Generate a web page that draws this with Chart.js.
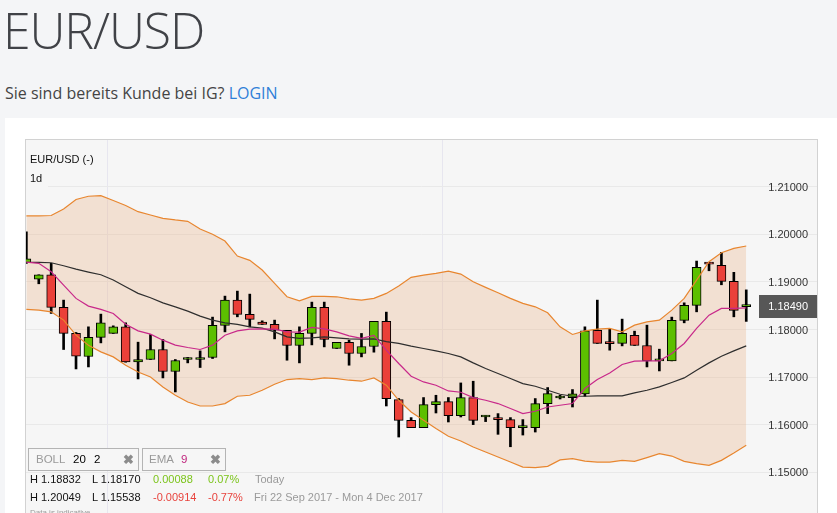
<!DOCTYPE html>
<html>
<head>
<meta charset="utf-8">
<title>EUR/USD</title>
<script src="https://cdn.jsdelivr.net/npm/chart.js@4.4.1/dist/chart.umd.min.js"></script>
<style>
    html, body {
        margin: 0;
        padding: 0;
        width: 837px;
        height: 513px;
        overflow: hidden;
        background: #f4f5f7;
        font-family: "Open Sans", Lato, sans-serif;
    }
    .page-title {
        position: absolute;
        left: 3px;
        top: 5px;
        margin: 0;
        font-size: 50px;
        line-height: 50px;
        font-weight: 300;
        color: #404247;
        letter-spacing: -1.1px;
    }
    .login-line {
        position: absolute;
        left: 5px;
        top: 85px;
        font-size: 16px;
        line-height: 16px;
        color: #444;
    }
    .login-line a { color: #2f7fd8; text-decoration: none; }
    .card {
        position: absolute;
        left: 5px;
        top: 118px;
        width: 832px;
        height: 400px;
        background: #ffffff;
    }
    .chart-wrap {
        position: absolute;
        left: 26px;
        top: 139px;
        width: 791px;
        height: 381px;
    }
    .chart-frame {
        position: absolute;
        left: 25px;
        top: 139px;
        width: 791px;
        height: 400px;
        border: 1px solid #d2d2d2;
        pointer-events: none;
    }
    .chart-label {
        position: absolute;
        font-family: "Liberation Sans", Arial, sans-serif;
        font-size: 11px;
        color: #111;
        background: #f6f6f6;
        line-height: 14px;
    }
    .ind-box {
        position: absolute;
        top: 448px;
        height: 21px;
        border: 1px solid #b4b4b4;
        background: #f6f6f6;
        font-family: "Liberation Sans", Arial, sans-serif;
        font-size: 11.5px;
        line-height: 21px;
    }
    .ind-box span { position: absolute; top: 0; }
    .ind-box .name { color: #9a9a9a; }
    .ind-box .close { color: #8c8c8c; font-weight: bold; font-size: 13px; }
    .info {
        position: absolute;
        left: 26px;
        width: 265px;
        font-family: "Liberation Sans", Arial, sans-serif;
        font-size: 11px;
        line-height: 16px;
        color: #111;
    }
    .info span { position: absolute; top: 0; white-space: nowrap; }
    .up { color: #7cc41b; }
    .down { color: #e8433d; }
    .muted { color: #9a9a9a; }
</style>
</head>
<body>
<h1 class="page-title">EUR/USD</h1>
<div class="login-line">Sie sind bereits Kunde bei IG? <a href="#">LOGIN</a></div>
<div class="card"></div>

<div class="chart-wrap"><canvas id="price-canvas" width="791" height="381"></canvas></div>
<div class="chart-frame"></div>

<div class="chart-label" style="left:30px; top:152px;">EUR/USD (-)</div>
<div class="chart-label" style="left:26px; top:171px; padding:0 6px 4px 4px;">1d</div>

<div class="ind-box" style="left:28px; width:109px;">
    <span class="name" style="left:7px;">BOLL</span>
    <span style="left:44px;">20</span>
    <span style="left:65px;">2</span>
    <span class="close" style="left:94px;">&#10006;</span>
</div>
<div class="ind-box" style="left:142px; width:82px;">
    <span class="name" style="left:6px;">EMA</span>
    <span style="left:38px; color:#c0267e;">9</span>
    <span class="close" style="left:67px;">&#10006;</span>
</div>

<div class="info" style="top:471px; height:16px;">
    <span style="left:4px;">H 1.18832</span>
    <span style="left:66px;">L 1.18170</span>
    <span class="up" style="left:127px;">0.00088</span>
    <span class="up" style="left:182px;">0.07%</span>
    <span class="muted" style="left:229px;">Today</span>
</div>
<div class="info" style="top:489px; height:16px;">
    <span style="left:4px;">H 1.20049</span>
    <span style="left:66px;">L 1.15538</span>
    <span class="down" style="left:127px;">-0.00914</span>
    <span class="down" style="left:182px;">-0.77%</span>
    <span class="muted" style="left:228px;">Fri 22 Sep 2017 - Mon 4 Dec 2017</span>
</div>
<div class="info muted" style="top:505px; font-size:8px; left:30px;">Data is indicative</div>

<script>
// Daily EUR/USD candles (oldest first)
const opens = [
    1.19404, 1.19059, 1.19149, 1.18464, 1.17917, 1.17433, 1.17833, 1.17917, 1.18056, 1.17320,
    1.17370, 1.17580, 1.17118, 1.17370, 1.17370, 1.17412, 1.18085, 1.18617, 1.18316, 1.18155,
    1.18106, 1.17980, 1.17664, 1.17917, 1.18464, 1.17601, 1.17728, 1.17496, 1.17643, 1.18169,
    1.16529, 1.16093, 1.15940, 1.16424, 1.16487, 1.16192, 1.16571, 1.16163, 1.16150, 1.16108,
    1.15940, 1.15940, 1.16445, 1.16562, 1.16571, 1.16647, 1.17980, 1.17707, 1.17707, 1.17875,
    1.17664, 1.17341, 1.17341, 1.18190, 1.18506, 1.19410, 1.19347, 1.19010, 1.18480
];
const highs = [
    1.20049, 1.19149, 1.19389, 1.18617, 1.17938, 1.18056, 1.18323, 1.18077, 1.18140, 1.17734,
    1.17896, 1.17791, 1.17370, 1.17412, 1.17551, 1.18260, 1.18701, 1.18806, 1.18743, 1.18182,
    1.18197, 1.17980, 1.18056, 1.18575, 1.18575, 1.17728, 1.17776, 1.17917, 1.18169, 1.18365,
    1.16550, 1.16150, 1.16571, 1.16619, 1.16571, 1.16878, 1.16914, 1.16192, 1.16234, 1.16150,
    1.16108, 1.16550, 1.16781, 1.16619, 1.16739, 1.18056, 1.18617, 1.18007, 1.18218, 1.17965,
    1.18091, 1.17587, 1.18260, 1.18560, 1.19437, 1.19410, 1.19620, 1.19200, 1.18832
];
const lows = [
    1.19389, 1.18960, 1.18337, 1.17580, 1.17172, 1.17214, 1.17719, 1.17917, 1.17313, 1.16962,
    1.17370, 1.16983, 1.16689, 1.17299, 1.17202, 1.17391, 1.17950, 1.18266, 1.18056, 1.18106,
    1.17803, 1.17355, 1.17299, 1.17677, 1.17635, 1.17601, 1.17250, 1.17425, 1.17524, 1.16394,
    1.15742, 1.15940, 1.15940, 1.16247, 1.16058, 1.16163, 1.16003, 1.16066, 1.15799, 1.15538,
    1.15784, 1.15847, 1.16234, 1.16541, 1.16373, 1.16598, 1.17707, 1.17566, 1.17656, 1.17664,
    1.17214, 1.17130, 1.17341, 1.18140, 1.18371, 1.19233, 1.18939, 1.18266, 1.18170
];
const closes = [
    1.19486, 1.19149, 1.18464, 1.17917, 1.17439, 1.17833, 1.18140, 1.18056, 1.17320, 1.17370,
    1.17580, 1.17118, 1.17349, 1.17372, 1.17412, 1.18085, 1.18617, 1.18316, 1.18211, 1.18106,
    1.17986, 1.17664, 1.17917, 1.18464, 1.17791, 1.17728, 1.17496, 1.17643, 1.18169, 1.16550,
    1.16093, 1.15940, 1.16424, 1.16487, 1.16192, 1.16571, 1.16093, 1.16170, 1.16108, 1.15940,
    1.15945, 1.16445, 1.16655, 1.16565, 1.16647, 1.17972, 1.17707, 1.17705, 1.17917, 1.17664,
    1.17341, 1.17345, 1.18190, 1.18506, 1.19305, 1.19374, 1.19010, 1.18402, 1.18490
];

// Bollinger (20, 2) and EMA 9 as drawn on the chart
const bollUpper = [
    1.20384, 1.20384, 1.20394, 1.20531, 1.20731, 1.20798, 1.20811, 1.20710, 1.20605, 1.20474,
    1.20405, 1.20335, 1.20300, 1.20272, 1.20110, 1.19999, 1.19858, 1.19543, 1.19452, 1.19248,
    1.18968, 1.18687, 1.18602, 1.18695, 1.18695, 1.18687, 1.18645, 1.18617, 1.18653, 1.18758,
    1.18912, 1.19095, 1.19143, 1.19179, 1.19227, 1.19164, 1.19002, 1.18884, 1.18771, 1.18653,
    1.18548, 1.18476, 1.18350, 1.18056, 1.17896, 1.17972, 1.18007, 1.18022, 1.17951, 1.18091,
    1.18161, 1.18197, 1.18407, 1.18653, 1.19038, 1.19423, 1.19612, 1.19704, 1.19753
];
const bollMiddle = [
    1.19410, 1.19410, 1.19402, 1.19339, 1.19269, 1.19206, 1.19149, 1.19038, 1.18897, 1.18758,
    1.18666, 1.18560, 1.18476, 1.18386, 1.18281, 1.18197, 1.18140, 1.18106, 1.18056, 1.18028,
    1.17951, 1.17845, 1.17812, 1.17824, 1.17845, 1.17824, 1.17803, 1.17797, 1.17803, 1.17744,
    1.17707, 1.17650, 1.17601, 1.17551, 1.17496, 1.17425, 1.17299, 1.17181, 1.17076, 1.16970,
    1.16865, 1.16809, 1.16724, 1.16640, 1.16598, 1.16598, 1.16605, 1.16605, 1.16605, 1.16668,
    1.16724, 1.16794, 1.16886, 1.16983, 1.17145, 1.17299, 1.17440, 1.17551, 1.17656
];
const bollLower = [
    1.18422, 1.18407, 1.18371, 1.18197, 1.17881, 1.17671, 1.17530, 1.17425, 1.17250, 1.17109,
    1.17004, 1.16794, 1.16619, 1.16478, 1.16394, 1.16394, 1.16445, 1.16598, 1.16619, 1.16724,
    1.16851, 1.16949, 1.16970, 1.16949, 1.16983, 1.16970, 1.16935, 1.16914, 1.16983, 1.16830,
    1.16514, 1.16268, 1.16094, 1.15919, 1.15757, 1.15658, 1.15532, 1.15427, 1.15322, 1.15217,
    1.15111, 1.15099, 1.15126, 1.15263, 1.15288, 1.15238, 1.15217, 1.15217, 1.15252, 1.15231,
    1.15309, 1.15393, 1.15343, 1.15231, 1.15183, 1.15147, 1.15252, 1.15406, 1.15568
];
const ema9 = [
    1.19416, 1.19389, 1.19212, 1.18933, 1.18653, 1.18491, 1.18422, 1.18337, 1.18112, 1.17972,
    1.17902, 1.17776, 1.17671, 1.17622, 1.17580, 1.17671, 1.17881, 1.17972, 1.18007, 1.18014,
    1.18007, 1.17951, 1.17944, 1.18043, 1.18014, 1.17951, 1.17866, 1.17812, 1.17875, 1.17566,
    1.17286, 1.17019, 1.16899, 1.16830, 1.16710, 1.16682, 1.16571, 1.16514, 1.16445, 1.16340,
    1.16234, 1.16283, 1.16373, 1.16409, 1.16445, 1.16760, 1.16949, 1.17088, 1.17265, 1.17334,
    1.17341, 1.17341, 1.17496, 1.17707, 1.18022, 1.18302, 1.18443, 1.18443, 1.18455
];

const priceTicks = [1.15, 1.16, 1.17, 1.18, 1.19, 1.20, 1.21];
const monthStartIdx = [7, 34];   // 1 Oct, 1 Nov

const UP_COLOR = '#5cbf00';
const DOWN_COLOR = '#ea4039';
const AXIS_FONT = '11px "Liberation Sans", Arial, sans-serif';

// light grey plot background
const plotBackground = {
    id: 'plotBackground',
    beforeDraw(chart) {
        const { ctx, chartArea: a } = chart;
        ctx.save();
        ctx.fillStyle = '#f6f6f6';
        ctx.fillRect(a.left, a.top, a.right - a.left, a.bottom - a.top);
        ctx.restore();
    }
};

// price labels sit inside the plot, on the right edge
const priceLabels = {
    id: 'priceLabels',
    afterDatasetsDraw(chart) {
        const { ctx, chartArea: a, scales } = chart;
        ctx.save();
        ctx.fillStyle = '#333333';
        ctx.font = AXIS_FONT;
        ctx.textAlign = 'right';
        ctx.textBaseline = 'middle';
        scales.y.ticks.forEach(t => {
            ctx.fillText(t.value.toFixed(5), a.right - 9, scales.y.getPixelForValue(t.value) + 1);
        });
        ctx.restore();
    }
};

// dark tag with the last price
const lastPriceTag = {
    id: 'lastPriceTag',
    afterDraw(chart) {
        const { ctx, chartArea: a, scales } = chart;
        const last = closes[closes.length - 1];
        const y = Math.round(scales.y.getPixelForValue(last));
        ctx.save();
        ctx.fillStyle = '#575757';
        ctx.fillRect(a.right - 58, y - 11, 58, 23);
        ctx.fillStyle = '#ffffff';
        ctx.font = AXIS_FONT;
        ctx.textAlign = 'right';
        ctx.textBaseline = 'middle';
        ctx.fillText(last.toFixed(5), a.right - 9, y + 1);
        ctx.restore();
    }
};

function points(values) {
    return values.map((v, i) => ({ x: i, y: v }));
}

function createPriceChart() {
    const ctx = document.getElementById('price-canvas');
    if (!ctx) return null;

    const bodyColors = opens.map((o, i) => closes[i] >= o ? UP_COLOR : DOWN_COLOR);

    const lineBase = {
        type: 'line',
        pointRadius: 0,
        tension: 0,
        fill: false
    };

    const config = {
        data: {
            datasets: [
                {
                    ...lineBase,
                    label: 'EMA 9',
                    data: points(ema9),
                    borderColor: '#c8298a',
                    borderWidth: 1.2,
                    order: 0
                },
                {
                    ...lineBase,
                    label: 'BOLL mid',
                    data: points(bollMiddle),
                    borderColor: '#2e2e2e',
                    borderWidth: 1.2,
                    order: 1
                },
                {
                    ...lineBase,
                    label: 'BOLL upper',
                    data: points(bollUpper),
                    borderColor: '#e8862f',
                    borderWidth: 1.2,
                    fill: '+1',
                    backgroundColor: 'rgba(234, 182, 140, 0.34)',
                    order: 2
                },
                {
                    ...lineBase,
                    label: 'BOLL lower',
                    data: points(bollLower),
                    borderColor: '#e8862f',
                    borderWidth: 1.2,
                    order: 3
                },
                {
                    type: 'bar',
                    label: 'body',
                    data: opens.map((o, i) => ({ x: i, y: [o, closes[i]] })),
                    backgroundColor: bodyColors,
                    borderColor: '#000000',
                    borderWidth: 1,
                    borderSkipped: false,
                    barThickness: 9,
                    minBarLength: 2,
                    grouped: false,
                    order: 4
                },
                {
                    type: 'bar',
                    label: 'wick',
                    data: lows.map((l, i) => ({ x: i, y: [l, highs[i]] })),
                    backgroundColor: '#000000',
                    borderWidth: 0,
                    barThickness: 2,
                    grouped: false,
                    order: 5
                }
            ]
        },
        options: {
            responsive: false,
            animation: false,
            layout: { padding: 0 },
            plugins: {
                legend: { display: false },
                tooltip: { enabled: false },
                // band fill goes under everything, not over the candles
                filler: { drawTime: 'beforeDatasetsDraw' }
            },
            scales: {
                x: {
                    type: 'linear',
                    min: -0.03,
                    max: 63.7,
                    offset: false,
                    ticks: { display: false, stepSize: 1 },
                    grid: {
                        drawTicks: false,
                        color: (c) => (c.tick && monthStartIdx.some(m => Math.abs(c.tick.value - m) < 1e-6))
                            ? '#e7e6ef' : 'rgba(0,0,0,0)'
                    },
                    border: { display: false }
                },
                y: {
                    position: 'right',
                    min: 1.14,
                    max: 1.22,
                    afterBuildTicks: (scale) => {
                        scale.ticks = priceTicks.map(v => ({ value: v }));
                    },
                    ticks: { display: false },
                    grid: {
                        color: '#e9e9e9',
                        drawTicks: false
                    },
                    border: { display: false }
                }
            }
        },
        plugins: [plotBackground, priceLabels, lastPriceTag]
    };

    return new Chart(ctx, config);
}

window.priceChart = createPriceChart();
</script>
</body>
</html>
